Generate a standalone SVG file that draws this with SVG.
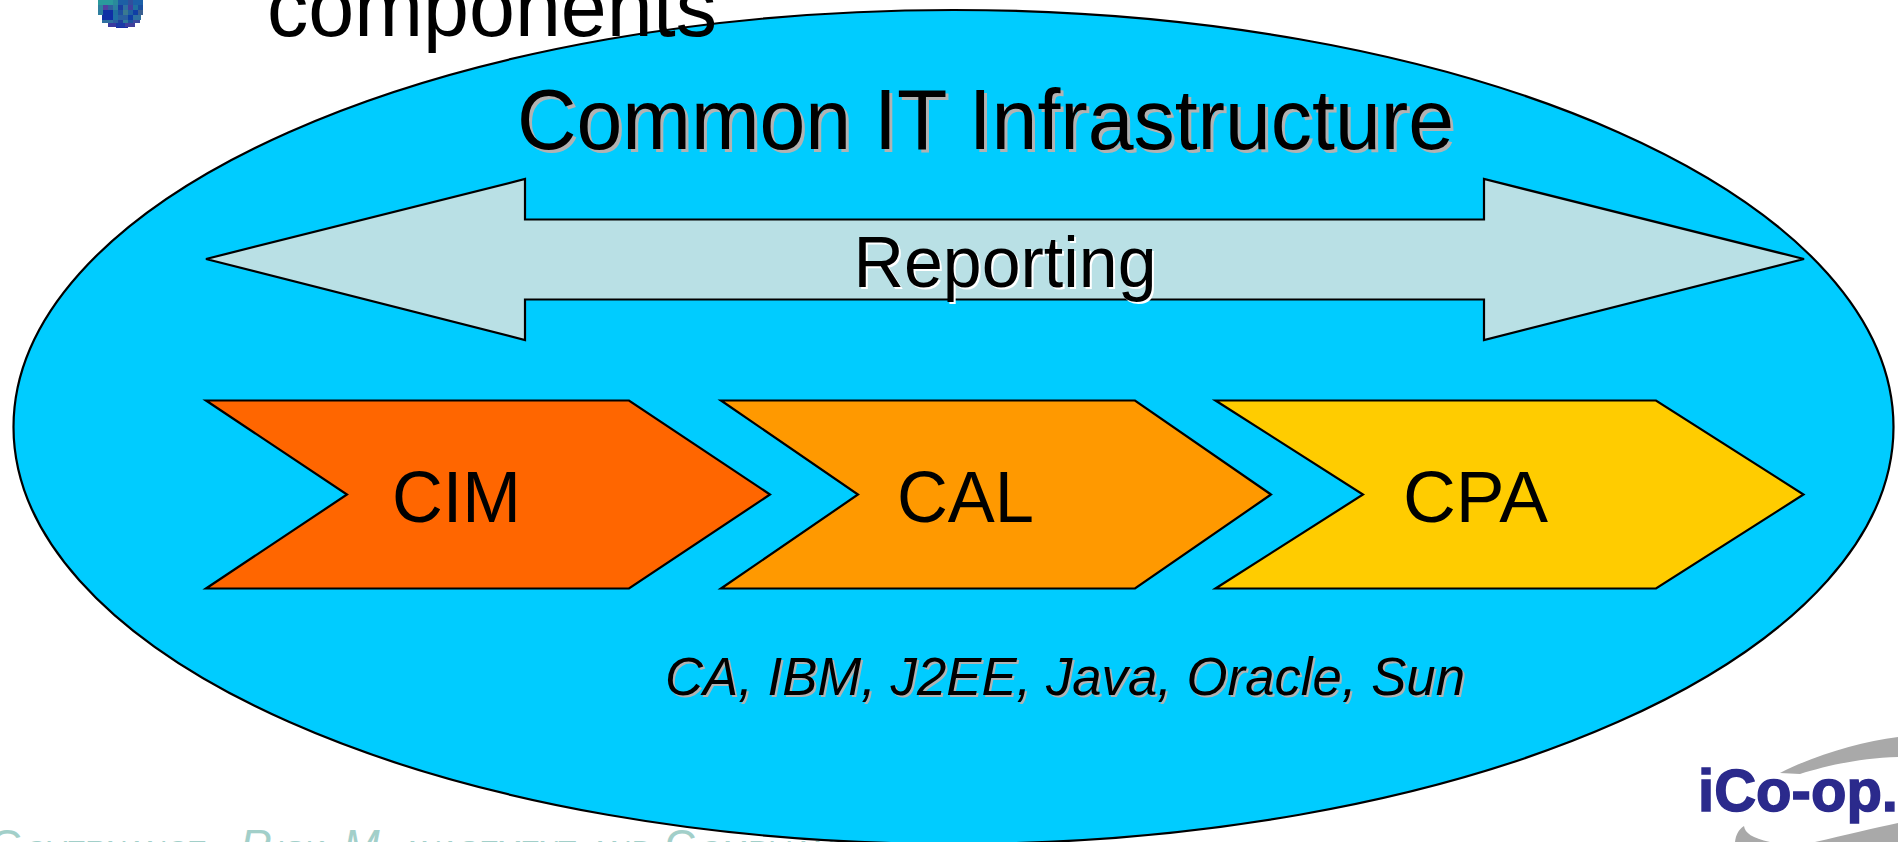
<svg xmlns="http://www.w3.org/2000/svg" width="1898" height="842" viewBox="0 0 1898 842">
<style>
.s{stroke:#000;stroke-width:2.2;stroke-linejoin:miter}
text{font-family:"Liberation Sans",Arial,sans-serif}
.t{fill:#000}
.sh{fill:#b2b2b2}
.shw{fill:#fff}
.big{font-size:44px}
.small{font-size:30px}
</style>
<rect width="1898" height="842" fill="#fff"/>
<g id="footer">
<text y="861" fill="#8cc4bc" opacity="0.8"><tspan class="big" x="-10">G</tspan><tspan class="small" x="25" letter-spacing="-1">OVERNANCE,</tspan><tspan class="big" x="240" font-style="italic">R</tspan><tspan class="small" x="275" font-style="italic">ISK</tspan><tspan class="big" x="343" font-style="italic" letter-spacing="8">M</tspan><tspan class="small" x="400" font-style="italic" letter-spacing="-2">ANAGEMENT</tspan><tspan class="small" x="590">AND</tspan><tspan class="big" x="665">C</tspan><tspan class="small" x="700">OMPLIANCE</tspan></text>
</g>
<g id="ellipse"><ellipse class="s" cx="953.5" cy="427" rx="940" ry="417" fill="#00ccff"/></g>
<g id="bullet">
<path d="M98 0h15v5H98z" fill="#2a9a9c"/><path d="M113 0h5v5h-5z" fill="#2a8a9c"/><path d="M118 0h10v5h-10z" fill="#1d5fa5"/><path d="M128 0h5v5h-5z" fill="#30509c"/><path d="M133 0h10v5h-10z" fill="#1c60a8"/>
<path d="M98 5h5v5h-5z" fill="#2f7f9f"/><path d="M103 5h5v5h-5z" fill="#5040a0"/><path d="M108 5h5v5h-5z" fill="#2f5fa0"/><path d="M113 5h5v5h-5z" fill="#2c7f9f"/><path d="M118 5h5v5h-5z" fill="#1a3fa0"/><path d="M123 5h5v5h-5z" fill="#2f70a0"/><path d="M128 5h5v5h-5z" fill="#4040a0"/><path d="M133 5h5v5h-5z" fill="#2070a0"/><path d="M138 5h5v5h-5z" fill="#1a4fa0"/>
<path d="M98 10h5v5h-5z" fill="#2f7f9f"/><path d="M103 10h10v5h-10z" fill="#0f2fa5"/><path d="M113 10h5v5h-5z" fill="#2070a0"/><path d="M118 10h5v5h-5z" fill="#1f50a0"/><path d="M123 10h5v5h-5z" fill="#3a7a90"/><path d="M128 10h5v5h-5z" fill="#2060a0"/><path d="M133 10h5v5h-5z" fill="#0f3fa5"/><path d="M138 10h5v5h-5z" fill="#3a5f90"/>
<path d="M102 15h11v5h-11z" fill="#0f2fa5"/><path d="M113 15h5v5h-5z" fill="#2070a5"/><path d="M118 15h10v5h-10z" fill="#2a60a0"/><path d="M128 15h5v5h-5z" fill="#0f3fa5"/><path d="M133 15h8v5h-8z" fill="#2f70a0"/>
<path d="M102 20h11v3h-11z" fill="#3070a0"/><path d="M113 20h5v3h-5z" fill="#2a60a0"/><path d="M118 20h5v3h-5z" fill="#20409c"/><path d="M123 20h5v3h-5z" fill="#2f7a9a"/><path d="M128 20h5v3h-5z" fill="#1c50a0"/><path d="M133 20h7v3h-7z" fill="#3a4aa0"/>
<path d="M108 23h8v4h-8z" fill="#3a3a9f"/><path d="M116 23h9v4h-9z" fill="#1a3aa5"/><path d="M125 23h10v4h-10z" fill="#3f3f9c"/>
<path d="M116 27h12v1h-12z" fill="#1a2fa5"/>
</g>
<g id="heading"><text x="267" y="36" font-size="84" class="t" textLength="450" lengthAdjust="spacingAndGlyphs">components</text></g>
<g id="title">
<text x="520" y="152" font-size="86" class="sh" textLength="937" lengthAdjust="spacingAndGlyphs">Common IT Infrastructure</text>
<text x="517" y="149" font-size="86" class="t" textLength="937" lengthAdjust="spacingAndGlyphs">Common IT Infrastructure</text>
</g>
<g id="reporting">
<polygon class="s" fill="#b9e0e5" points="206,259 525,179 525,219.500 1484,219.500 1484,179 1804,259 1484,340 1484,299.500 525,299.500 525,340"/>
<text x="855.500" y="289" font-size="72" class="shw" textLength="303" lengthAdjust="spacingAndGlyphs">Reporting</text>
<text x="853.500" y="287" font-size="72" class="t" textLength="303" lengthAdjust="spacingAndGlyphs">Reporting</text>
</g>
<g id="cim">
<polygon class="s" fill="#ff6600" points="206,400.500 629,400.500 770,494.500 629,588.500 206,588.500 347,494.500"/>
<text x="392" y="522" font-size="72" class="t" textLength="129" lengthAdjust="spacingAndGlyphs">CIM</text>
</g>
<g id="cal">
<polygon class="s" fill="#ff9900" points="721,400.500 1135,400.500 1271,494.500 1135,588.500 721,588.500 858,494.500"/>
<text x="897" y="522" font-size="72" class="t" textLength="137" lengthAdjust="spacingAndGlyphs">CAL</text>
</g>
<g id="cpa">
<polygon class="s" fill="#ffcc00" points="1215.500,400.500 1656,400.500 1803.500,494.500 1656,588.500 1215.500,588.500 1363,494.500"/>
<text x="1403" y="522" font-size="72" class="t" textLength="145" lengthAdjust="spacingAndGlyphs">CPA</text>
</g>
<g id="vendors">
<text x="667" y="697" font-size="54" font-style="italic" class="sh" textLength="800" lengthAdjust="spacingAndGlyphs">CA, IBM, J2EE, Java, Oracle, Sun</text>
<text x="665" y="695" font-size="54" font-style="italic" class="t" textLength="800" lengthAdjust="spacingAndGlyphs">CA, IBM, J2EE, Java, Oracle, Sun</text>
</g>
<g id="logo">
<path d="M1780 773C1815 755 1860 742 1898 737V757C1860 758 1825 766 1800 774Z" fill="#a9a9a9"/>
<path d="M1735 842C1736 835 1738 830 1744 826C1745 833 1752 838 1770 842Z" fill="#a9a9a9"/>
<path d="M1815 842C1845 835 1875 828 1898 823V842Z" fill="#a9a9a9"/>
<text x="1698" y="811" font-size="60" font-weight="bold" fill="#2b2a8c" stroke="#2b2a8c" stroke-width="1.5" textLength="200" lengthAdjust="spacingAndGlyphs">iCo-op.</text>
</g>
</svg>
